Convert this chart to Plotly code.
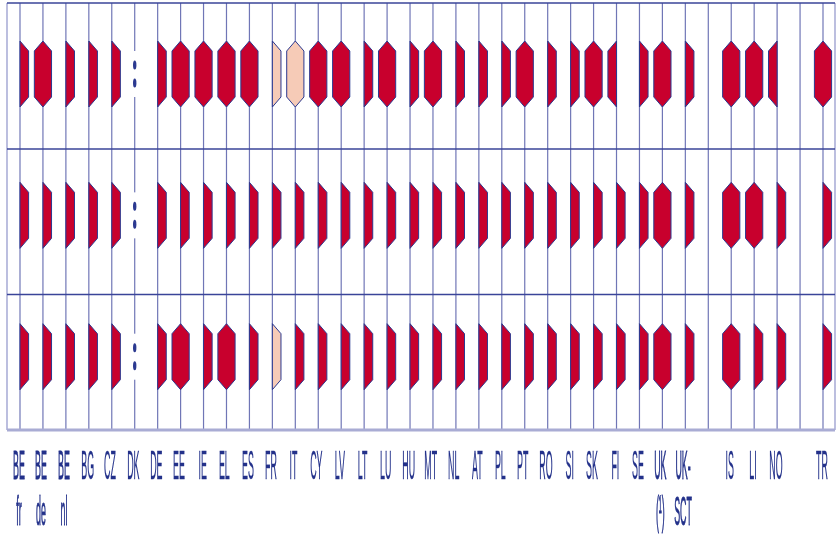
import plotly.graph_objects as go

# ---------------------------------------------------------------- data ---
label_line1 = ["BE", "BE", "BE", "BG", "CZ", "DK", "DE", "EE", "IE", "EL", "ES",
               "FR", "IT", "CY", "LV", "LT", "LU", "HU", "MT", "NL", "AT", "PL",
               "PT", "RO", "SI", "SK", "FI", "SE", "UK", "UK-", "", "IS", "LI",
               "NO", "", "TR"]
label_line2 = ["fr", "de", "nl"] + [""] * 25 + ["(¹)", "SCT"] + [""] * 6

# F = full hexagon, R = right half, L = left half (lower case = pale shade),
# ":" = not available, "-" = no column entry
row_1 = ("R F R R R : R F F F F r f F F R F R F R R R F R R F L R F R - F F L - F").split()
row_2 = ("R R R R R : R R R R R R R R R R R R R R R R R R R R R R F R - F F R - R").split()
row_3 = ("R R R R R : R F R F R r R R R R R R R R R R R R R R R R F R - F R R - R").split()
rows = [row_1, row_2, row_3]

# ------------------------------------------------------------ geometry ---
W, H = 840, 540
COL0, COL_LAST = 20.0, 823.0                      # first / last column line (px)
PX_X = (COL_LAST - COL0) / (len(label_line1) - 1)  # px per column
ROW0, PX_Y = 74.0, 141.35                          # first row centre, px per row
GRID_TOP, GRID_BOTTOM = 3.0, 430.0
ROW_LINES = [149.0, 294.5]
FRAME_LEFT, FRAME_RIGHT = 7.0, 835.0

HEX_HALF_W, HEX_HALF_H, HEX_SHOULDER = 8.6, 33.0, 10.0

DARK = "#c8002d"
PALE = "#f6cbb7"
NAVY = "#2b3990"
GRID = "rgba(72,80,162,0.78)"
TEXT = "#23318a"

x_range = [-COL0 / PX_X, (W - COL0) / PX_X]
y_range = [(H - ROW0) / PX_Y, -ROW0 / PX_Y]


def py(p):
    """pixel row -> paper y"""
    return 1 - p / H


def px(p):
    """pixel column -> paper x"""
    return p / W


def hexagon(k, r, kind):
    hw = HEX_HALF_W / PX_X
    hh = HEX_HALF_H / PX_Y
    sh = HEX_SHOULDER / PX_Y
    top, bot = r - hh, r + hh
    right = [(k, top), (k + hw, top + sh), (k + hw, bot - sh), (k, bot)]
    left = [(k, bot), (k - hw, bot - sh), (k - hw, top + sh), (k, top)]
    if kind == "F":
        return right + left
    if kind == "R":
        return right + [(k, top)]
    return left + [(k, bot)]


fills = {"dark": ([], []), "pale": ([], [])}
na_cells = []
for r, row in enumerate(rows):
    for k, code in enumerate(row):
        if code == ":":
            na_cells.append((k, r))
            continue
        if code == "-":
            continue
        tone = "pale" if code.islower() else "dark"
        xs, ys = fills[tone]
        for x, y in hexagon(k, r, code.upper()):
            xs.append(x)
            ys.append(y)
        xs.append(None)
        ys.append(None)

fig = go.Figure()
for tone, colour in (("dark", DARK), ("pale", PALE)):
    xs, ys = fills[tone]
    fig.add_trace(go.Scatter(x=xs, y=ys, mode="lines", fill="toself",
                             fillcolor=colour, line=dict(color=NAVY, width=1),
                             hoverinfo="skip", showlegend=False))

# "not available" marker: a break in the column line with a colon
GAP = 23.0 / PX_Y
gx, gy = [], []
for k, r in na_cells:
    gx += [k, k, None]
    gy += [r - GAP, r + GAP, None]
fig.add_trace(go.Scatter(x=gx, y=gy, mode="lines",
                         line=dict(color="white", width=4),
                         hoverinfo="skip", showlegend=False))

shapes = []
# column lines
for k in range(len(label_line1)):
    shapes.append(dict(type="line", xref="x", yref="paper", x0=k, x1=k,
                       y0=py(GRID_BOTTOM), y1=py(GRID_TOP),
                       line=dict(color=GRID, width=1.2), layer="below"))
# frame sides
for xp in (FRAME_LEFT, FRAME_RIGHT):
    shapes.append(dict(type="line", xref="paper", yref="paper", x0=px(xp), x1=px(xp),
                       y0=py(GRID_BOTTOM), y1=py(GRID_TOP),
                       line=dict(color="rgba(150,154,205,0.8)", width=1.6), layer="below"))
# row separators and top edge
for yp in [GRID_TOP] + ROW_LINES:
    shapes.append(dict(type="line", xref="paper", yref="paper",
                       x0=px(FRAME_LEFT), x1=px(FRAME_RIGHT), y0=py(yp), y1=py(yp),
                       line=dict(color="#3a4499", width=1.6), layer="below"))
# baseline
shapes.append(dict(type="line", xref="paper", yref="paper",
                   x0=px(FRAME_LEFT), x1=px(FRAME_RIGHT),
                   y0=py(GRID_BOTTOM), y1=py(GRID_BOTTOM),
                   line=dict(color="#a9acd4", width=3), layer="below"))
# colon dots
DOT_OFF, DOT_RX, DOT_RY = 9.0, 1.7, 4.5
for k, r in na_cells:
    for s in (-1, 1):
        cy = r + s * DOT_OFF / PX_Y
        shapes.append(dict(type="circle", xref="x", yref="y",
                           x0=k - DOT_RX / PX_X, x1=k + DOT_RX / PX_X,
                           y0=cy - DOT_RY / PX_Y, y1=cy + DOT_RY / PX_Y,
                           fillcolor=NAVY, line=dict(width=0), layer="above"))

# ----------------------------------------------------- country labels ---
FONT_SIZE = 12
ASCENT, CAP = 0.905, 0.716            # Liberation Sans metrics (em)
LABEL_SX = 0.74                       # horizontal squeeze of the lettering
CAP_PX = 29.5                         # drawn capital height
LABEL_SY = CAP_PX / (CAP * FONT_SIZE)
CAP_TOP = 448.5                       # top of first-line capitals (px)
LINE_PITCH = 46.5                     # baseline-to-baseline (px)
LABEL_DX = -1.5 / PX_X                # lettering sits a touch left of the rule
box_top = CAP_TOP - 2 - (ASCENT - CAP) * FONT_SIZE * LABEL_SY

annotations = []
for k, (a, b) in enumerate(zip(label_line1, label_line2)):
    txt = a + ("<br>" + b if b else "")
    if not txt:
        continue
    annotations.append(dict(x=k + LABEL_DX, xref="x", y=py(box_top), yref="paper",
                            text=txt, showarrow=False, xanchor="center",
                            yanchor="top", align="center",
                            font=dict(family="Liberation Sans, Arial, sans-serif",
                                      size=FONT_SIZE, color=TEXT)))

fig.update_layout(
    width=W, height=H, autosize=False,
    margin=dict(l=0, r=0, t=0, b=0),
    paper_bgcolor="white", plot_bgcolor="white",
    xaxis=dict(range=x_range, visible=False, fixedrange=True),
    yaxis=dict(range=y_range, visible=False, fixedrange=True),
    shapes=shapes, annotations=annotations, showlegend=False,
)

# stretch the country codes into tall, narrow lettering
post_js = """
var gd = document.getElementById('{plot_id}');
var SX = SXV, SY = SYV, PITCH = PITCHV;
gd.querySelectorAll('text.annotation-text').forEach(function (t) {
  var lines = t.querySelectorAll('tspan.line');
  for (var i = 1; i < lines.length; i++) { lines[i].setAttribute('dy', PITCH / SY); }
  var b = t.getBBox();
  var cx = b.x + b.width / 2, cy = b.y;
  var t0 = t.getAttribute('transform') || '';
  t.setAttribute('transform', t0 + ' translate(' + cx + ',' + cy + ') scale(' + SX + ',' + SY + ') translate(' + (-cx) + ',' + (-cy) + ')');
  t.style.stroke = 'TEXTC';
  t.style.strokeWidth = '0.25px';
  t.style.vectorEffect = 'non-scaling-stroke';
  t.style.filter = 'blur(0.2px)';
});
""".replace("SXV", str(LABEL_SX)).replace("SYV", str(LABEL_SY)) \
   .replace("PITCHV", str(LINE_PITCH)).replace("TEXTC", TEXT)

fig.write_html("out.html", post_script=post_js, config={"staticPlot": True})
